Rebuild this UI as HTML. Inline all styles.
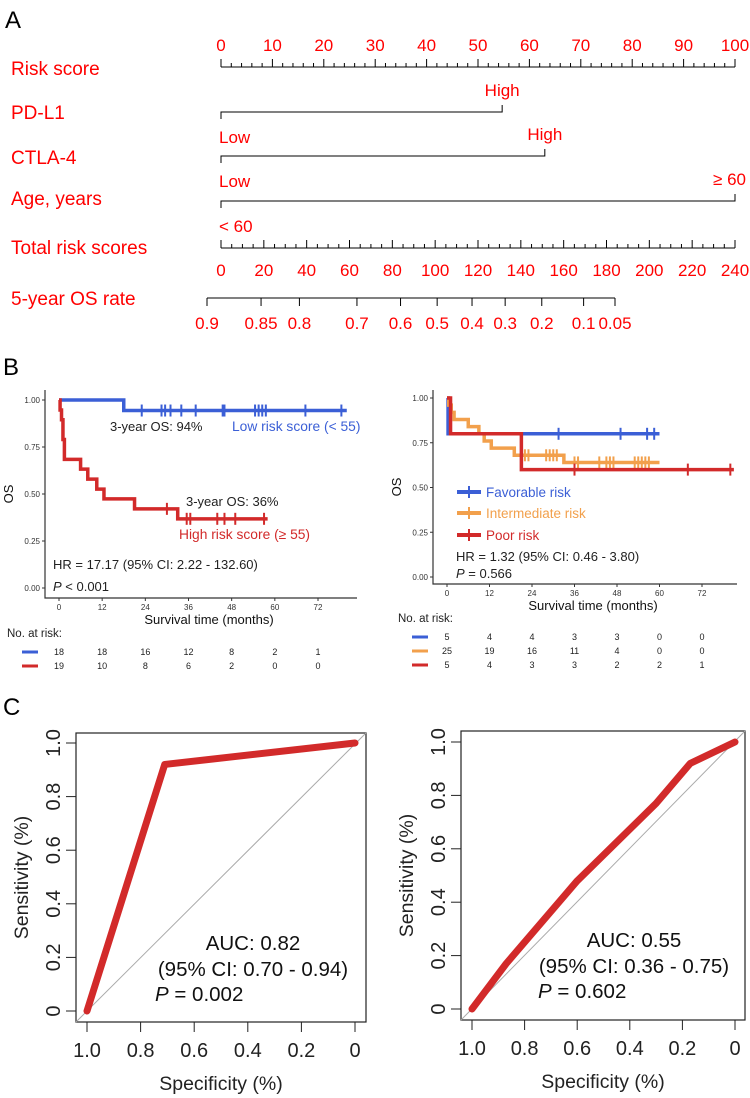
<!DOCTYPE html>
<html><head><meta charset="utf-8">
<style>
html,body{margin:0;padding:0;background:#fff;}
svg{display:block;font-family:"Liberation Sans",Arial,sans-serif;}
</style></head>
<body>
<svg id="fig" width="750" height="1098" viewBox="0 0 750 1098" xmlns="http://www.w3.org/2000/svg">
<g id="A"></g>
<g id="B1"></g>
<g id="B2"></g>
<g id="C1"></g>
<g id="C2"></g>
</svg>
<script>
// ---------- Panel A data ----------
const riskScoreTicks = [0,10,20,30,40,50,60,70,80,90,100];
const totalScoreTicks = [0,20,40,60,80,100,120,140,160,180,200,220,240];
const osRateTicks = [0.9,0.85,0.8,0.7,0.6,0.5,0.4,0.3,0.2,0.1,0.05];
const osRatePoints = [0,15.5,26.5,43,55.5,66,76,85.5,96,108,117];
const pdl1Points = 54.7;
const ctla4Points = 63;
const agePoints = 100;

// ---------- Panel B data ----------
const kmTicks = [0,12,24,36,48,60,72];
const kmYTicks = [0,0.25,0.5,0.75,1];
const lowTimes = [0,18,80];
const lowSurv = [1,0.944,0.944];
const lowCens = [23,28.5,29.5,31,34,38,45.5,46,54.5,55.5,56.5,57.5,68.5,78.5];
const highTimes = [0,0.3,0.7,1.1,1.5,6,8,10.5,12.5,21,33,58];
const highSurv = [1,0.947,0.895,0.79,0.684,0.632,0.579,0.526,0.474,0.421,0.368,0.368];
const highCens = [30,35.5,36.5,44,46,49,57];
const riskLow = [18,18,16,12,8,2,1];
const riskHigh = [19,10,8,6,2,0,0];

const favTimes = [0,0.3,60];
const favSurv = [1,0.8,0.8];
const favCens = [31.5,49,56.5,58.5];
const intTimes = [0,0.5,1.2,2,6,9,10.5,12.5,19,33,60];
const intSurv = [1,0.96,0.92,0.88,0.84,0.80,0.76,0.72,0.68,0.64,0.64];
const intCens = [22,23,28,29,30,31,36,37,43,45,46,47,53,54,55,56,57];
const poorTimes = [0,1,21,81];
const poorSurv = [1,0.8,0.6,0.6];
const poorCens = [36,68,80];
const riskFav = [5,4,4,3,3,0,0];
const riskInt = [25,19,16,11,4,0,0];
const riskPoor = [5,4,3,3,2,2,1];

// ---------- Panel C data ----------
const rocTicks = [1.0,0.8,0.6,0.4,0.2,0];
const rocTickLabels = ["1.0","0.8","0.6","0.4","0.2","0"];
const roc1Spec = [1,0.71,0];
const roc1Sens = [0,0.92,1];
const roc2Spec = [1,0.87,0.6,0.3,0.17,0];
const roc2Sens = [0,0.17,0.48,0.77,0.92,1];

const NS="http://www.w3.org/2000/svg";
function mk(parent,tag,attrs,text){
  const e=document.createElementNS(NS,tag);
  for(const k in attrs)e.setAttribute(k,attrs[k]);
  if(text!==undefined)e.textContent=text;
  parent.appendChild(e);return e;
}
const RED="#ff0000";

// ---------- Panel A ----------
(function(){
  const g=document.getElementById('A');
  const x0=221,x1=735;
  const px=p=>x0+(x1-x0)*p/100;
  const t=mk(g,'text',{x:5,y:28,'font-size':24,fill:'#000'},'A');
  
  
  const lab=(txt,y,name)=>{const e=mk(g,'text',{x:11,y:y,'font-size':19,fill:RED},txt);
    
    };
  lab('Risk score',75,'risk-score-label');
  lab('PD-L1',119,'pdl1-label');
  lab('CTLA-4',164,'ctla4-label');
  lab('Age, years',205,'age-label');
  lab('Total risk scores',254,'total-risk-label');
  lab('5-year OS rate',305,'os-rate-label');
  const ax=mk(g,'g',{stroke:'#000','stroke-width':1});
  
  
  mk(ax,'line',{x1:x0,y1:67,x2:x1,y2:67});
  for(let v=0;v<=100;v+=2){const X=px(v);mk(ax,'line',{x1:X,y1:67,x2:X,y2:v%10===0?59:63});}
  riskScoreTicks.forEach(v=>{const e=mk(g,'text',{x:px(v),y:51,'font-size':17,fill:RED,'text-anchor':'middle'},String(v));
    
    });
  const cat=(pts,y,lo,hi,name,loAnchorEnd)=>{
    const c=mk(g,'g',{});
    
    
    const X=px(pts);
    mk(c,'polyline',{points:`${x0},${y+7} ${x0},${y} ${X},${y} ${X},${y-7}`,fill:'none',stroke:'#000','stroke-width':1});
    mk(c,'text',{x:x0-2,y:y+31,'font-size':17,fill:RED},lo);
    mk(c,'text',{x:loAnchorEnd?746:X,y:y-16,'font-size':17,fill:RED,'text-anchor':loAnchorEnd?'end':'middle'},hi);
  };
  cat(pdl1Points,112,'Low','High','pdl1-scale',false);
  cat(ctla4Points,156,'Low','High','ctla4-scale',false);
  cat(agePoints,201,'< 60','≥ 60','age-scale',true);
  const tx=v=>x0+(x1-x0)*v/240;
  const ta=mk(g,'g',{stroke:'#000','stroke-width':1});
  
  
  mk(ta,'line',{x1:x0,y1:248,x2:x1,y2:248});
  for(let v=0;v<=240;v+=5){const X=tx(v);mk(ta,'line',{x1:X,y1:248,x2:X,y2:v%20===0?240:244});}
  totalScoreTicks.forEach(v=>{const e=mk(g,'text',{x:tx(v),y:276,'font-size':17,fill:RED,'text-anchor':'middle'},String(v));
    
    });
  const oa=mk(g,'g',{stroke:'#000','stroke-width':1});
  
  
  const ox=p=>207+(615-207)*(p-osRatePoints[0])/(osRatePoints[osRatePoints.length-1]-osRatePoints[0]);
  mk(oa,'line',{x1:ox(osRatePoints[0]),y1:298,x2:ox(osRatePoints[osRatePoints.length-1]),y2:298});
  osRateTicks.forEach((v,i)=>{const X=ox(osRatePoints[i]);
    mk(oa,'line',{x1:X,y1:298,x2:X,y2:306});
    const e=mk(g,'text',{x:X,y:329,'font-size':17,fill:RED,'text-anchor':'middle'},String(v));
    
    });
})();

// ---------- KM helper ----------
function km(g,cfg){
  const {ax,x0,x72,y1,y0,top,right,bottom}=cfg;
  const X=t=>x0+(x72-x0)*t/72, Y=s=>y0+(y1-y0)*s;
  mk(g,'polyline',{points:`${ax},${top} ${ax},${bottom} ${right},${bottom}`,fill:'none',stroke:'#333','stroke-width':1.2});
  kmYTicks.forEach(v=>{mk(g,'line',{x1:ax-3,y1:Y(v),x2:ax,y2:Y(v),stroke:'#333'});
    const e=mk(g,'text',{x:ax-5,y:Y(v)+3,'font-size':8,fill:'#333','text-anchor':'end'},v.toFixed(2));
    
    });
  kmTicks.forEach(v=>{mk(g,'line',{x1:X(v),y1:bottom,x2:X(v),y2:bottom+3,stroke:'#333'});
    const e=mk(g,'text',{x:X(v),y:bottom+12,'font-size':8,fill:'#333','text-anchor':'middle'},String(v));
    
    });
  const xt=mk(g,'text',{x:(ax+right)/2+8,y:bottom+26,'font-size':13,fill:'#111','text-anchor':'middle'},'Survival time (months)');
  
  
  const yt=mk(g,'text',{x:0,y:0,'font-size':13,fill:'#111','text-anchor':'middle',transform:`translate(${ax-32},${(top+bottom)/2}) rotate(-90)`},'OS');
  
  
  return {X,Y};
}
function curve(g,sc,times,surv,cens,color,name){
  const c=mk(g,'g',{});
  
  
  let pts=[];
  for(let i=0;i<times.length;i++){
    if(i>0)pts.push(`${sc.X(times[i])},${sc.Y(surv[i-1])}`);
    pts.push(`${sc.X(times[i])},${sc.Y(surv[i])}`);
  }
  mk(c,'polyline',{points:pts.join(' '),fill:'none',stroke:color,'stroke-width':3.5,'stroke-linejoin':'miter'});
  cens.forEach(t=>{let s=surv[0];for(let i=0;i<times.length;i++)if(times[i]<=t)s=surv[i];
    const m=mk(c,'line',{x1:sc.X(t),y1:sc.Y(s)-6,x2:sc.X(t),y2:sc.Y(s)+6,stroke:color,'stroke-width':2});
    
    });
}
function riskTable(g,sc,rows,colors,y0,dy,lx){
  rows.forEach((r,i)=>{
    mk(g,'line',{x1:lx,y1:y0+dy*i-3,x2:lx+16,y2:y0+dy*i-3,stroke:colors[i],'stroke-width':3});
    r.forEach((v,j)=>{const e=mk(g,'text',{x:sc.X(kmTicks[j]),y:y0+dy*i,'font-size':9,fill:'#222','text-anchor':'middle'},String(v));
      
      });
  });
}
const BLUE="#3b5fd6",ORANGE="#f2a04c",KRED="#d22a2a";

// ---------- Panel B left ----------
(function(){
  const g=document.getElementById('B1');
  const l=mk(g,'text',{x:3,y:375,'font-size':24,fill:'#000'},'B');
  
  
  const sc=km(g,{ax:45,x0:59,x72:318,y1:400,y0:588,top:390,right:357,bottom:598});
  curve(g,sc,lowTimes,lowSurv,lowCens,BLUE,'low-risk-curve');
  curve(g,sc,highTimes,highSurv,highCens,KRED,'high-risk-curve');
  const T=(x,y,txt,c,n,fs)=>{const e=mk(g,'text',{x:x,y:y,'font-size':fs||13,fill:c},txt);
    
    return e;};
  T(110,431,'3-year OS: 94%','#222','os-annotation-low');
  T(232,431,'Low risk score (< 55)',BLUE,'legend-low-risk',13.8);
  T(186,506,'3-year OS: 36%','#222','os-annotation-high');
  T(179,539,'High risk score (≥ 55)',KRED,'legend-high-risk',13.8);
  T(53,569,'HR = 17.17 (95% CI: 2.22 - 132.60)','#222','hr-text');
  const p=T(53,591,'','#222','p-value');
  mk(p,'tspan',{'font-style':'italic'},'P');mk(p,'tspan',{},' < 0.001');
  T(7,637,'No. at risk:','#222','risk-table-title',11.5);
  riskTable(g,sc,[riskLow,riskHigh],[BLUE,KRED],655,14,22);
})();

// ---------- Panel B right ----------
(function(){
  const g=document.getElementById('B2');
  const sc=km(g,{ax:433,x0:447,x72:702,y1:398,y0:577,top:390,right:737,bottom:584});
  curve(g,sc,favTimes,favSurv,favCens,BLUE,'favorable-curve');
  curve(g,sc,intTimes,intSurv,intCens,ORANGE,'intermediate-curve');
  curve(g,sc,poorTimes,poorSurv,poorCens,KRED,'poor-curve');
  const leg=[['Favorable risk',BLUE,497],['Intermediate risk',ORANGE,518],['Poor risk',KRED,540]];
  leg.forEach(([t,c,y])=>{
    const lg=mk(g,'g',{});
    
    
    mk(lg,'line',{x1:457,y1:y-5,x2:481,y2:y-5,stroke:c,'stroke-width':4});
    mk(lg,'line',{x1:469,y1:y-11,x2:469,y2:y+1,stroke:c,'stroke-width':2});
    mk(lg,'text',{x:486,y:y,'font-size':13.5,fill:c},t);
  });
  const h=mk(g,'text',{x:456,y:561,'font-size':13,fill:'#222'},'HR  = 1.32 (95% CI: 0.46 - 3.80)');
  
  
  const p=mk(g,'text',{x:456,y:578,'font-size':13,fill:'#222'});
  
  
  mk(p,'tspan',{'font-style':'italic'},'P');mk(p,'tspan',{},' = 0.566');
  const nt=mk(g,'text',{x:398,y:622,'font-size':11.5,fill:'#222'},'No. at risk:');
  
  
  riskTable(g,sc,[riskFav,riskInt,riskPoor],[BLUE,ORANGE,KRED],640,14,412);
})();

// ---------- Panel C ----------
function roc(g,b,specs,sens,auc,ci,pv,tx,pxp,ty){
  const X=s=>b.x0+(b.x1-b.x0)*s, Y=v=>b.y0+(b.y1-b.y0)*v;
  mk(g,'rect',{x:b.L,y:b.T,width:b.R-b.L,height:b.B-b.T,fill:'none',stroke:'#222','stroke-width':1.2});
  const d=mk(g,'line',{x1:b.L,y1:b.B,x2:b.R,y2:b.T,stroke:'#aaa','stroke-width':1});
  
  
  rocTicks.forEach((v,i)=>{
    mk(g,'line',{x1:X(v),y1:b.B,x2:X(v),y2:b.B+10,stroke:'#222'});
    const e=mk(g,'text',{x:X(v),y:b.B+35,'font-size':20,fill:'#222','text-anchor':'middle'},rocTickLabels[i]);
    
    
    mk(g,'line',{x1:b.L-10,y1:Y(v),x2:b.L,y2:Y(v),stroke:'#222'});
    const f=mk(g,'text',{x:0,y:0,'font-size':20,fill:'#222','text-anchor':'middle',transform:`translate(${b.L-16},${Y(v)}) rotate(-90)`},rocTickLabels[i]);
    
    
  });
  const pts=specs.map((s,i)=>`${X(s)},${Y(sens[i])}`).join(' ');
  const c=mk(g,'polyline',{points:pts,fill:'none',stroke:'#d22a2a','stroke-width':7,'stroke-linecap':'round','stroke-linejoin':'round'});
  
  
  const xt=mk(g,'text',{x:(b.L+b.R)/2,y:b.B+68,'font-size':19.5,fill:'#222','text-anchor':'middle'},'Specificity (%)');
  
  
  const yt=mk(g,'text',{x:0,y:0,'font-size':19.5,fill:'#222','text-anchor':'middle',transform:`translate(${b.L-48},${(b.T+b.B)/2}) rotate(-90)`},'Sensitivity (%)');
  
  
  const a=mk(g,'text',{x:tx,y:ty,'font-size':20.5,fill:'#111','text-anchor':'middle'},auc);
  
  
  const ci2=mk(g,'text',{x:tx,y:ty+26,'font-size':20.5,fill:'#111','text-anchor':'middle'},ci);
  
  
  const p=mk(g,'text',{x:pxp,y:ty+51,'font-size':20.5,fill:'#111'});
  
  
  mk(p,'tspan',{'font-style':'italic'},'P');mk(p,'tspan',{},' = '+pv);
}
(function(){
  const g=document.getElementById('C1');
  const l=mk(g,'text',{x:3,y:715,'font-size':24,fill:'#000'},'C');
  
  
  roc(g,{L:76,R:366,T:733,B:1022,x1:87,x0:355,y1:743,y0:1011},roc1Spec,roc1Sens,'AUC: 0.82','(95% CI: 0.70 - 0.94)','0.002',253,155,950);
  const g2=document.getElementById('C2');
  roc(g2,{L:461,R:745,T:731,B:1020,x1:472,x0:735,y1:742,y0:1009},roc2Spec,roc2Sens,'AUC: 0.55','(95% CI: 0.36 - 0.75)','0.602',634,538,947);
})();
</script>
</body></html>
